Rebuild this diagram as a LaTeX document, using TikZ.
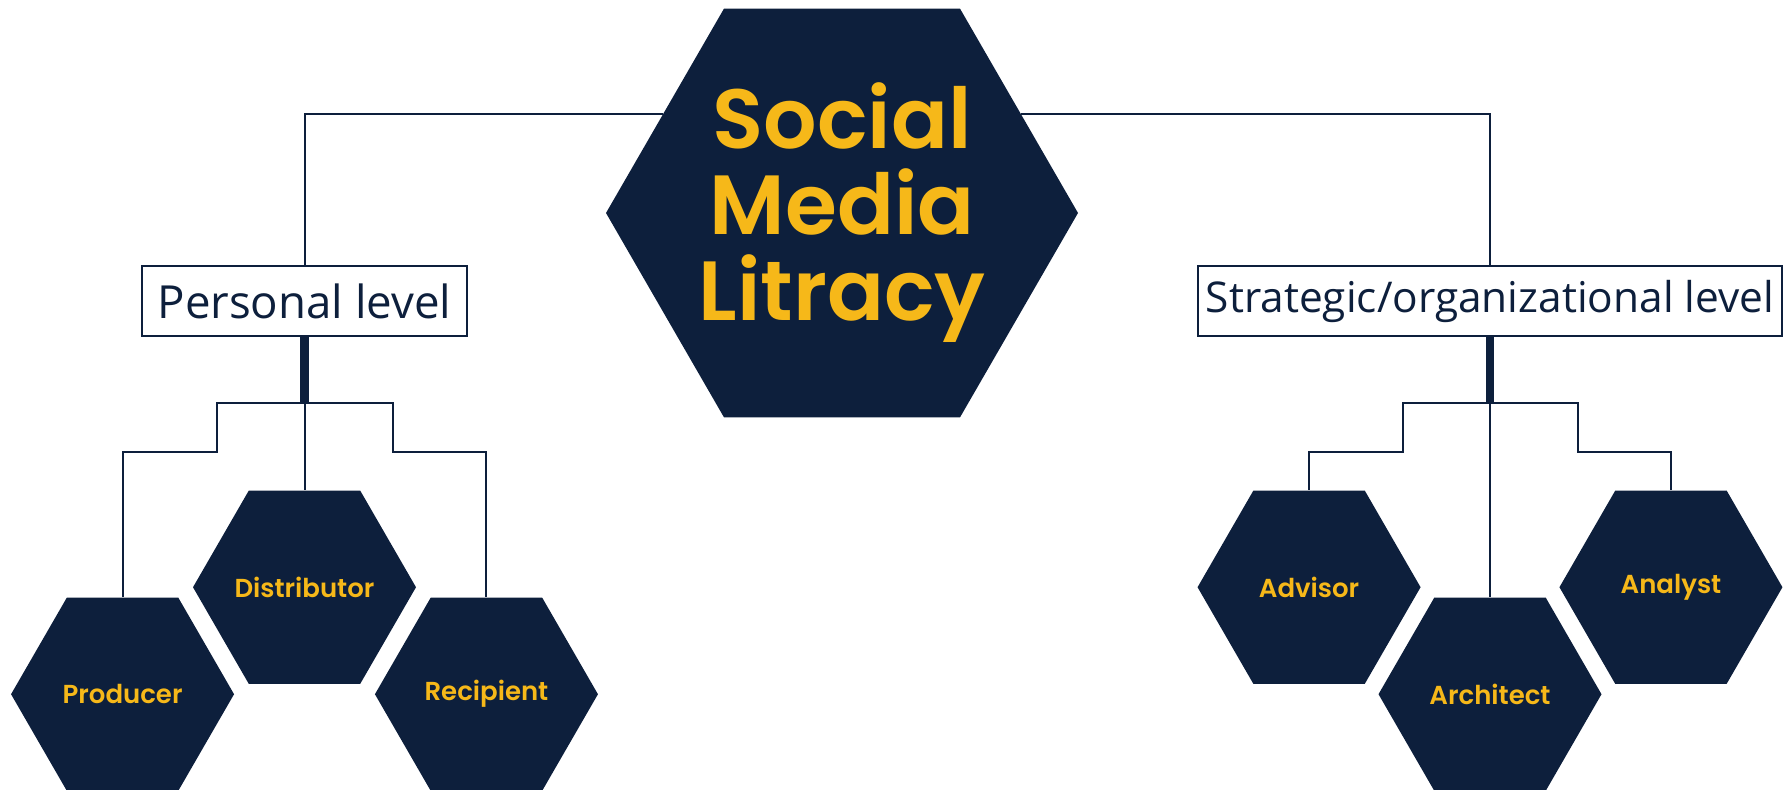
\documentclass[tikz,border=0pt]{standalone}
\usepackage{fontspec}
\usetikzlibrary{positioning,shapes.geometric}
\newfontfamily\gothic{Poppins}[BoldFont={Poppins SemiBold}]
\newfontfamily\segoe{Open Sans}
\definecolor{navy}{HTML}{0D1F3C}
\definecolor{gold}{HTML}{F6B819}
\tikzstyle{bighex} = [regular polygon,
                      regular polygon sides=6,
                      minimum size=236pt,
                      inner sep=0pt,
                      fill=navy]
\tikzstyle{title} = [text=gold,
                     align=center,
                     inner sep=0pt,
                     font=\gothic\bfseries\fontsize{42}{43}\selectfont]
\tikzstyle{hex} = [regular polygon,
                   regular polygon sides=6,
                   minimum size=111.5pt,
                   inner sep=0pt,
                   fill=navy]
\tikzstyle{hexlabel} = [text=gold,
                        inner sep=0pt,
                        font=\gothic\bfseries\fontsize{13}{15}\selectfont]
\tikzstyle{levelbox} = [rectangle,
                        minimum height=35pt,
                        inner ysep=2pt,
                        inner xsep=1pt,
                        fill=white,
                        draw=navy,
                        line width=1.25pt,
                        text=navy]
\tikzstyle{link} = [draw=navy, line width=1pt]
\tikzstyle{thickbar} = [draw=navy, line width=4.25pt]

\begin{document}
\begin{tikzpicture}[x=0.5pt, y=-0.5pt]
\useasboundingbox (0,0) rectangle (1783,790);
\node (soc) [bighex] at (842,213) {};
\node (soctext) [title] at (soc.center) {Social\\Media\\Litracy};
\node (pl) [levelbox, minimum width=162.5pt, font=\segoe\fontsize{22.8}{26}\selectfont] at (304.5,301) {Personal level};
\node (sl) [levelbox, minimum width=292pt, font=\segoe\fontsize{21.2}{25}\selectfont] at (1490,301) {Strategic/organizational level};
\draw[link] (pl.north) |- (soc.151);
\draw[link] (sl.north) |- (soc.29);

% personal level
\node (dist) [hex, below=76.5pt of pl, label={[hexlabel]center:Distributor}] {};
\node (prod) [hex, left=-21pt of dist, yshift=-53.5pt, label={[hexlabel]center:Producer}] {};
\node (rec) [hex, right=-21pt of dist, yshift=-53.5pt, label={[hexlabel]center:Recipient}] {};
\draw[thickbar] (pl.south) -- ++(0,66) coordinate (pj);
\draw[link] (pj) -- (dist.north);
\draw[link] (pj) -| ++(-88,49) -| (prod.north);
\draw[link] (pj) -| ++(88,49) -| (rec.north);

% strategic/organizational level
\node (arch) [hex, below=130pt of sl, label={[hexlabel]center:Architect}] {};
\node (adv) [hex, left=-21.5pt of arch, yshift=53.5pt, label={[hexlabel]center:Advisor}] {};
\node (ana) [hex, right=-21.5pt of arch, yshift=53.5pt, label={[hexlabel]center:Analyst}] {};
\draw[thickbar] (sl.south) -- ++(0,66) coordinate (sj);
\draw[link] (sj) -- (arch.north);
\draw[link] (sj) -| ++(-87,49) -| (adv.north);
\draw[link] (sj) -| ++(88,49) -| (ana.north);
\end{tikzpicture}
\end{document}
